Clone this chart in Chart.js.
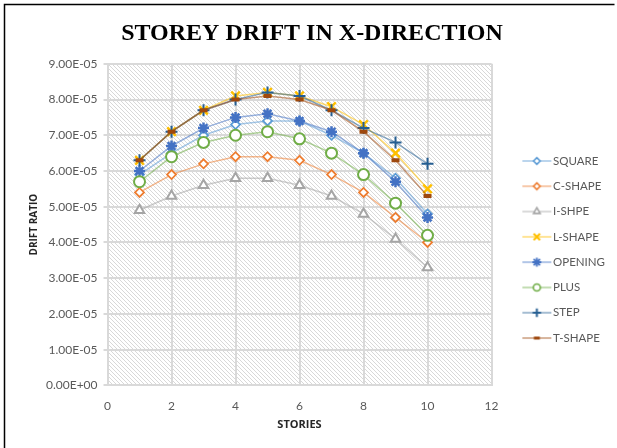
<!DOCTYPE html>
<html>
<head>
<meta charset="utf-8">
<script src="https://cdn.jsdelivr.net/npm/chart.js@4/dist/chart.umd.min.js"></script>
<style>
  html, body { margin: 0; padding: 0; background: #ffffff; }
  #wrap { position: relative; width: 617px; height: 448px; }
</style>
</head>
<body>
<div id="wrap"><canvas id="c" width="617" height="448"></canvas></div>
<script>
// Storey numbers along the x axis
const stories = [1, 2, 3, 4, 5, 6, 7, 8, 9, 10];

// Drift ratio per storey for each building plan shape
const square  = [5.9e-5, 6.5e-5, 7.0e-5, 7.3e-5, 7.4e-5, 7.4e-5, 7.0e-5, 6.5e-5, 5.8e-5, 4.8e-5];
const cShape  = [5.4e-5, 5.9e-5, 6.2e-5, 6.4e-5, 6.4e-5, 6.3e-5, 5.9e-5, 5.4e-5, 4.7e-5, 4.0e-5];
const iShape  = [4.9e-5, 5.3e-5, 5.6e-5, 5.8e-5, 5.8e-5, 5.6e-5, 5.3e-5, 4.8e-5, 4.1e-5, 3.3e-5];
const lShape  = [6.3e-5, 7.1e-5, 7.7e-5, 8.1e-5, 8.2e-5, 8.1e-5, 7.8e-5, 7.3e-5, 6.5e-5, 5.5e-5];
const opening = [6.0e-5, 6.7e-5, 7.2e-5, 7.5e-5, 7.6e-5, 7.4e-5, 7.1e-5, 6.5e-5, 5.7e-5, 4.7e-5];
const plus    = [5.7e-5, 6.4e-5, 6.8e-5, 7.0e-5, 7.1e-5, 6.9e-5, 6.5e-5, 5.9e-5, 5.1e-5, 4.2e-5];
const step    = [6.3e-5, 7.1e-5, 7.7e-5, 8.0e-5, 8.2e-5, 8.1e-5, 7.7e-5, 7.2e-5, 6.8e-5, 6.2e-5];
const tShape  = [6.3e-5, 7.1e-5, 7.7e-5, 8.0e-5, 8.1e-5, 8.0e-5, 7.7e-5, 7.1e-5, 6.3e-5, 5.3e-5];

const seriesNames = ['SQUARE', 'C-SHAPE', 'I-SHPE', 'L-SHAPE', 'OPENING', 'PLUS', 'STEP', 'T-SHAPE'];
const seriesValues = [square, cShape, iShape, lShape, opening, plus, step, tShape];

// Marker styling per series (lr / lw: marker radius and stroke in the legend)
const styles = [
  { color: '#5B9BD5', line: 'rgba(91,155,213,0.55)',  point: 'rectRot',  r: 4.5, w: 1.75, fill: '#ffffff', lr: 3.3, lw: 1.6 },
  { color: '#ED7D31', line: 'rgba(237,125,49,0.55)',  point: 'rectRot',  r: 4.5, w: 1.75, fill: '#ffffff', lr: 3.3, lw: 1.6 },
  { color: '#A5A5A5', line: 'rgba(165,165,165,0.55)', point: 'triangle', r: 5.5, w: 2,    fill: '#ffffff', lr: 3.8, lw: 1.6 },
  { color: '#FFC000', line: 'rgba(255,192,0,0.55)',   point: 'crossRot', r: 6,   w: 2.5,  fill: '#FFC000', lr: 4.5, lw: 2 },
  { color: '#4472C4', line: 'rgba(68,114,196,0.55)',  point: 'star',     r: 5.5, w: 2.5,  fill: '#4472C4', lr: 4.5, lw: 1.8 },
  { color: '#70AD47', line: 'rgba(112,173,71,0.55)',  point: 'circle',   r: 5.5, w: 2,    fill: '#ffffff', lr: 3.5, lw: 1.6 },
  { color: '#255E91', line: 'rgba(37,94,145,0.55)',   point: 'cross',    r: 6,   w: 2,    fill: '#255E91', lr: 4.2, lw: 2 },
  { color: '#9E480E', line: 'rgba(158,72,14,0.55)',   point: 'line',     r: 4,   w: 4,    fill: '#9E480E', lr: 3,   lw: 3 }
];

function toPoints(values) {
  return values.map((v, i) => ({ x: stories[i], y: v }));
}

// Scientific label like 9.00E-05
function sciLabel(v) {
  const parts = Number(v).toExponential(2).split('e');
  const exp = parseInt(parts[1], 10);
  return parts[0] + 'E' + (exp < 0 ? '-' : '+') + String(Math.abs(exp)).padStart(2, '0');
}

// Legend swatch: short line with the series marker in its middle.
// The canvas is wider than the legend box so the line runs up to the text.
const SWATCH_BOX = 42;
function legendSwatch(s) {
  const cv = document.createElement('canvas');
  cv.width = 52; cv.height = 12;
  const ctx = cv.getContext('2d');
  ctx.strokeStyle = s.line;
  ctx.lineWidth = 1.5;
  ctx.beginPath(); ctx.moveTo(22, 6); ctx.lineTo(51, 6); ctx.stroke();
  ctx.fillStyle = s.fill;
  ctx.strokeStyle = s.color;
  ctx.lineWidth = s.lw;
  Chart.helpers.drawPoint(ctx, { pointStyle: s.point, radius: s.lr, rotation: 0, borderWidth: s.lw }, 36.5, 6);
  return cv;
}

// Diagonal hatch used behind the plot area
function hatchPattern(ctx) {
  const t = document.createElement('canvas');
  t.width = 4; t.height = 4;
  const c = t.getContext('2d');
  c.fillStyle = '#ffffff';
  c.fillRect(0, 0, 4, 4);
  c.fillStyle = '#d8d8d8';
  for (let i = 0; i < 4; i++) c.fillRect(i, i, 1, 1);
  return ctx.createPattern(t, 'repeat');
}

const plotBackground = {
  id: 'plotBackground',
  beforeDraw(chart) {
    const { ctx, chartArea: a } = chart;
    ctx.save();
    ctx.fillStyle = hatchPattern(ctx);
    ctx.fillRect(a.left, a.top, a.right - a.left, a.bottom - a.top);
    ctx.restore();
  },
  afterDraw(chart) {
    const ctx = chart.ctx;
    ctx.save();
    ctx.strokeStyle = '#000000';
    ctx.lineWidth = 1.5;
    ctx.beginPath();
    ctx.moveTo(4.5, chart.height);
    ctx.lineTo(4.5, 4.5);
    ctx.lineTo(614.5, 4.5);
    ctx.stroke();
    ctx.restore();
  }
};

const datasets = seriesNames.map((name, i) => {
  const s = styles[i];
  return {
    label: name,
    data: toPoints(seriesValues[i]),
    borderColor: s.line,
    borderWidth: 1.5,
    pointStyle: s.point,
    pointRadius: s.r,
    pointBorderWidth: s.w,
    pointBorderColor: s.color,
    pointBackgroundColor: s.fill,
    tension: 0,
    fill: false,
    order: -i
  };
});

const tickFont = { family: 'Lato', size: 12 };

new Chart(document.getElementById('c'), {
  type: 'line',
  data: { datasets },
  plugins: [plotBackground],
  options: {
    responsive: false,
    animation: false,
    layout: { padding: { left: 9, right: 2, top: 0, bottom: 13 } },
    plugins: {
      title: {
        display: true,
        text: 'STOREY DRIFT IN X-DIRECTION',
        color: '#000000',
        font: { family: 'Liberation Serif', size: 24, weight: 'bold' },
        padding: { top: 19, bottom: 16 }
      },
      legend: {
        position: 'right',
        align: 'center',
        title: { display: true, text: ' ', font: { size: 10 }, padding: { top: 52, bottom: 0 } },
        labels: {
          color: '#595959',
          font: { family: 'Lato', size: 11.5 },
          usePointStyle: true,
          pointStyleWidth: SWATCH_BOX,
          boxHeight: 11,
          padding: 13.8,
          generateLabels(chart) {
            return chart.data.datasets.map((ds, i) => ({
              text: ds.label,
              pointStyle: legendSwatch(styles[i]),
              fillStyle: styles[i].fill,
              strokeStyle: styles[i].color,
              lineWidth: 0,
              fontColor: '#595959',
              hidden: false,
              datasetIndex: i
            }));
          }
        }
      },
      tooltip: { enabled: false }
    },
    scales: {
      x: {
        type: 'linear',
        min: 0, max: 12,
        ticks: { stepSize: 2, color: '#595959', font: tickFont, padding: 14 },
        grid: { color: '#d9d9d9', lineWidth: 2, drawTicks: false },
        border: { color: '#d9d9d9', width: 2 },
        title: { display: true, text: 'STORIES', color: '#262626', font: { family: 'Open Sans', size: 11, weight: 'bold' }, padding: { top: -10, bottom: 4 } }
      },
      y: {
        min: 0, max: 9e-5,
        ticks: { stepSize: 1e-5, color: '#595959', font: tickFont, padding: 6, callback: (v) => sciLabel(v) },
        grid: { color: '#d9d9d9', lineWidth: 2, tickLength: 4 },
        border: { color: '#d9d9d9', width: 2 },
        title: { display: true, text: 'DRIFT RATIO', color: '#262626', font: { family: 'Open Sans', size: 10, weight: 'bold' }, padding: { top: 19, bottom: 0 } }
      }
    }
  }
});
</script>
</body>
</html>
